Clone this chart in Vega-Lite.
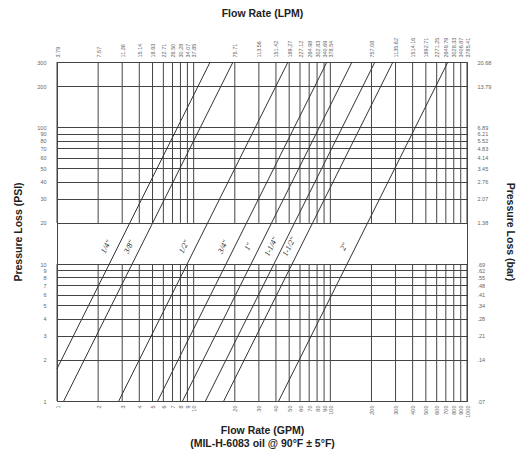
{
  "$schema": "https://vega.github.io/schema/vega-lite/v6.json",
  "width": 410,
  "height": 339,
  "autosize": "none",
  "padding": {"left": 57, "top": 62, "right": 60, "bottom": 64},
  "background": "white",
  "config": {
    "view": {"stroke": "#444", "strokeWidth": 1},
    "axis": {
      "labelFont": "Liberation Sans",
      "labelFontSize": 5.5,
      "labelColor": "#666",
      "titleFont": "Liberation Sans",
      "titleFontSize": 10.5,
      "titleFontWeight": "bold",
      "titleColor": "#222",
      "ticks": false,
      "domain": false
    }
  },
  "datasets": {
    "gpmTicks": [
      {"gpm": 1}, {"gpm": 2}, {"gpm": 3}, {"gpm": 4}, {"gpm": 5}, {"gpm": 6}, {"gpm": 7}, {"gpm": 8}, {"gpm": 9},
      {"gpm": 10}, {"gpm": 20}, {"gpm": 30}, {"gpm": 40}, {"gpm": 50}, {"gpm": 60}, {"gpm": 70}, {"gpm": 80}, {"gpm": 90},
      {"gpm": 100}, {"gpm": 200}, {"gpm": 300}, {"gpm": 400}, {"gpm": 500}, {"gpm": 600}, {"gpm": 700}, {"gpm": 800}, {"gpm": 900},
      {"gpm": 1000}
    ],
    "lines": [
      {"size": "1/4\"", "gpm": 1, "psi": 1.72},
      {"size": "1/4\"", "gpm": 13.2, "psi": 300},
      {"size": "3/8\"", "gpm": 1.12, "psi": 1},
      {"size": "3/8\"", "gpm": 19.4, "psi": 300},
      {"size": "1/2\"", "gpm": 2.83, "psi": 1},
      {"size": "1/2\"", "gpm": 49, "psi": 300},
      {"size": "3/4\"", "gpm": 5.45, "psi": 1},
      {"size": "3/4\"", "gpm": 94.4, "psi": 300},
      {"size": "1\"", "gpm": 8.3, "psi": 1},
      {"size": "1\"", "gpm": 144, "psi": 300},
      {"size": "1-1/4\"", "gpm": 12.2, "psi": 1},
      {"size": "1-1/4\"", "gpm": 212, "psi": 300},
      {"size": "1-1/2\"", "gpm": 16.6, "psi": 1},
      {"size": "1-1/2\"", "gpm": 287, "psi": 300},
      {"size": "2\"", "gpm": 41.9, "psi": 1},
      {"size": "2\"", "gpm": 725, "psi": 300}
    ],
    "labels": [
      {"size": "1/4\"", "gpm": 2.68, "psi": 12.4},
      {"size": "3/8\"", "gpm": 3.94, "psi": 12.4},
      {"size": "1/2\"", "gpm": 9.96, "psi": 12.4},
      {"size": "3/4\"", "gpm": 19.19, "psi": 12.4},
      {"size": "1\"", "gpm": 29.28, "psi": 12.4},
      {"size": "1-1/4\"", "gpm": 43.1, "psi": 12.4},
      {"size": "1-1/2\"", "gpm": 58.35, "psi": 12.4},
      {"size": "2\"", "gpm": 147.4, "psi": 12.4}
    ]
  },
  "layer": [
    {
      "data": {"name": "gpmTicks"},
      "mark": {"type": "rule", "color": "#444", "strokeWidth": 1},
      "encoding": {
        "x": {"field": "gpm", "type": "quantitative", "scale": {"type": "log", "domain": [1, 1000], "nice": false}, "axis": null},
        "y": {"datum": 1, "type": "quantitative", "scale": {"type": "log", "domain": [1, 300], "nice": false}, "axis": null},
        "y2": {"datum": 10}
      }
    },
    {
      "data": {"name": "gpmTicks"},
      "mark": {"type": "rule", "color": "#444", "strokeWidth": 1},
      "encoding": {
        "x": {"field": "gpm", "type": "quantitative", "scale": {"type": "log", "domain": [1, 1000], "nice": false}, "axis": null},
        "y": {"datum": 20, "type": "quantitative", "scale": {"type": "log", "domain": [1, 300], "nice": false}, "axis": null},
        "y2": {"datum": 300}
      }
    },
    {
      "data": {"name": "lines"},
      "mark": {"type": "line", "color": "#333", "strokeWidth": 1},
      "encoding": {
        "x": {
          "field": "gpm", "type": "quantitative",
          "scale": {"type": "log", "domain": [1, 1000], "nice": false},
          "axis": {
            "orient": "bottom",
            "values": [1,2,3,4,5,6,7,8,9,10,20,30,40,50,60,70,80,90,100,200,300,400,500,600,700,800,900,1000],
            "format": "d",
            "labelAngle": 270,
            "labelPadding": 4,
            "grid": false,
            "title": ["Flow Rate (GPM)", "(MIL-H-6083 oil @ 90°F ± 5°F)"],
            "titleLineHeight": 13,
            "titlePadding": 8
          }
        },
        "y": {
          "field": "psi", "type": "quantitative",
          "scale": {"type": "log", "domain": [1, 300], "nice": false},
          "axis": {
            "orient": "left",
            "values": [1,2,3,4,5,6,7,8,9,10,20,30,40,50,60,70,80,90,100,200,300],
            "format": "d",
            "grid": true,
            "gridColor": "#444",
            "gridOpacity": 1,
            "gridWidth": 1,
            "labelPadding": 11,
            "title": "Pressure Loss (PSI)",
            "titlePadding": 13
          }
        },
        "detail": {"field": "size", "type": "nominal"}
      }
    },
    {
      "data": {"name": "labels"},
      "mark": {"type": "text", "font": "Liberation Serif", "fontSize": 8, "fontStyle": "italic", "color": "#222", "angle": 296.5, "align": "center", "baseline": "bottom", "dy": -6},
      "encoding": {
        "x": {
          "field": "gpm", "type": "quantitative",
          "scale": {"type": "log", "domain": [1, 1000], "nice": false},
          "axis": {
            "orient": "top",
            "values": [1,2,3,4,5,6,7,8,9,10,20,30,40,50,60,70,80,90,100,200,300,400,500,600,700,800,900,1000],
            "labelExpr": "format(datum.value * 3.78541, '.2f')",
            "labelAngle": 270,
            "labelPadding": 5,
            "grid": false,
            "title": "Flow Rate (LPM)",
            "titlePadding": 19
          }
        },
        "y": {
          "field": "psi", "type": "quantitative",
          "scale": {"type": "log", "domain": [1, 300], "nice": false},
          "axis": {
            "orient": "right",
            "values": [1,2,3,4,5,6,7,8,9,10,20,30,40,50,60,70,80,90,100,200,300],
            "labelExpr": "datum.value * 0.0689476 < 1 ? replace(format(datum.value * 0.0689476, '.2f'), '0.', '.') : format(datum.value * 0.0689476, '.2f')",
            "labelPadding": 10,
            "grid": false,
            "title": "Pressure Loss (bar)",
            "titleAngle": 90,
            "titlePadding": 14
          }
        },
        "text": {"field": "size", "type": "nominal"}
      }
    }
  ],
  "resolve": {
    "scale": {"x": "shared", "y": "shared"},
    "axis": {"x": "independent", "y": "independent"}
  }
}
